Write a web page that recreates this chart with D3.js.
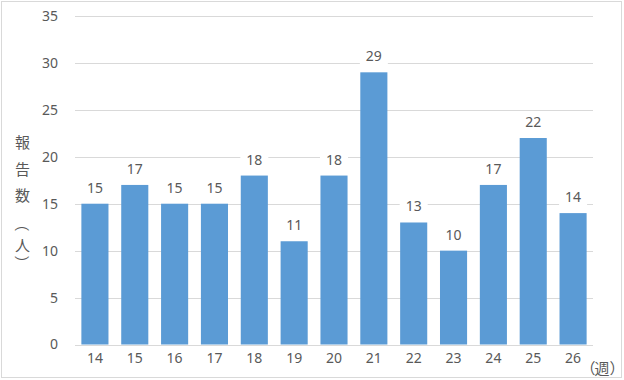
<!DOCTYPE html>
<html><head><meta charset="utf-8">
<script src="https://cdn.jsdelivr.net/npm/d3@7"></script>
<style>
html,body{margin:0;padding:0;background:#fff;}
svg{display:block;}
text{font-family:"Noto Sans","Noto Sans CJK JP",sans-serif;fill:#595959;}
</style></head><body>
<svg id="c" width="624" height="380"></svg>
<script>
const weeks = ["14","15","16","17","18","19","20","21","22","23","24","25","26"];
const reports = [15,17,15,15,18,11,18,29,13,10,17,22,14];
const yTicks = [0,5,10,15,20,25,30,35];
const yTitle = "報告数（人）";
const xUnit = "（週）";

(function(){
const svg = d3.select("#c");
svg.append("rect").attr("x",1.5).attr("y",1.5).attr("width",620).attr("height",376)
  .attr("fill","#fff").attr("stroke","#d9d9d9").attr("stroke-width",1);

const pL = 75, pR = 593, pT = 16, pB = 344.5;
const x = d3.scaleBand().domain(weeks).range([pL,pR]).paddingInner(0.32).paddingOuter(0.16);
const y = d3.scaleLinear().domain([0,35]).range([pB,pT]);

// gridlines
svg.append("g").selectAll("line").data(yTicks).join("line")
  .attr("x1",pL).attr("x2",pR)
  .attr("y1",d=>Math.round(y(d))+0.5).attr("y2",d=>Math.round(y(d))+0.5)
  .attr("stroke","#d9d9d9").attr("stroke-width",1);

// y axis labels
const yAxis = d3.axisLeft(y).tickValues(yTicks).tickSize(0).tickPadding(0);
const gy = svg.append("g").attr("transform",`translate(58,0)`).call(yAxis);
gy.select(".domain").remove();
gy.selectAll("text").attr("font-size",14).attr("fill","#595959")
  .style("font-family",'"Noto Sans",sans-serif');

// bars
svg.append("g").selectAll("rect").data(reports).join("rect")
  .attr("x",(d,i)=>x(weeks[i])).attr("width",x.bandwidth())
  .attr("y",d=>y(d)).attr("height",d=>pB-y(d))
  .attr("fill","#5b9bd5");

// x axis labels
const xAxis = d3.axisBottom(x).tickSize(0).tickPadding(0);
const gx = svg.append("g").attr("transform",`translate(0,${pB+9})`).call(xAxis);
gx.select(".domain").remove();
gx.selectAll("text").attr("font-size",14).attr("fill","#595959").attr("dy","0.71em")
  .style("font-family",'"Noto Sans",sans-serif');

// data labels with white background
const lab = svg.append("g").selectAll("g").data(reports).join("g")
  .attr("transform",(d,i)=>`translate(${x(weeks[i])+x.bandwidth()/2},${y(d)-11})`);
lab.append("rect").attr("x",-14).attr("y",-14).attr("width",28).attr("height",18).attr("fill","#fff");
lab.append("text").attr("text-anchor","middle").attr("font-size",14).text(d=>d);

// x unit
const ux = [588,602,617];
svg.append("text").attr("y",367).attr("font-size",15).attr("dominant-baseline","central")
  .style("font-family",'"Noto Sans CJK JP",sans-serif')
  .selectAll("tspan").data(Array.from(xUnit)).join("tspan")
  .attr("x",(d,i)=>ux[i]).attr("text-anchor","middle").text(d=>d);

// y title (vertical, parentheses rotated like vertical writing)
const ty = [141,168,194,224,244,263];
const tt = svg.append("g").attr("transform","translate(22.5,0)");
tt.selectAll("text").data(Array.from(yTitle)).join("text")
  .attr("transform",(d,i)=>{
    const r = (d==="（"||d==="）") ? " rotate(90)" : "";
    return `translate(0,${ty[i]})${r}`;
  })
  .attr("text-anchor","middle").attr("dominant-baseline","central")
  .attr("font-size",15).style("font-family",'"Noto Sans CJK JP",sans-serif').text(d=>d);
})();
</script></body></html>
